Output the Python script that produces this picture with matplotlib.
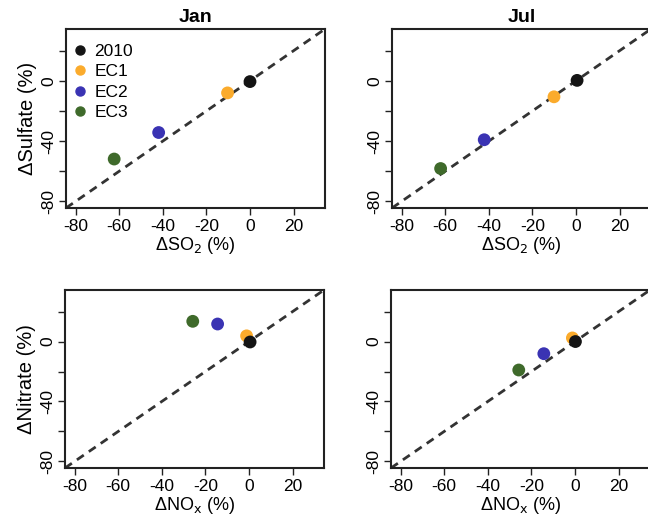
import matplotlib
matplotlib.use("Agg")
import matplotlib.pyplot as plt
from matplotlib.lines import Line2D

plt.rcParams['font.family'] = ['Liberation Sans', 'DejaVu Sans']

series = ["2010", "EC1", "EC2", "EC3"]
colors = ["#141414", "#fbab2c", "#3a33b3", "#3f6a2b"]

jan_so2 = [0.0, -10.3, -41.9, -62.3]
jan_sulfate = [-0.5, -8.0, -34.3, -51.9]
jul_so2 = [0.5, -10.1, -42.1, -62.1]
jul_sulfate = [0.3, -10.6, -39.1, -58.2]
jan_nox = [0.5, -1.1, -14.4, -25.8]
jan_nitrate = [-0.3, 3.8, 11.7, 13.5]
jul_nox = [0.2, -1.2, -14.3, -25.8]
jul_nitrate = [0.0, 2.4, -8.1, -19.0]

xticks = [-80, -60, -40, -20, 0, 20]
yticks = [-80, -60, -40, -20, 0, 20]
ytick_labels = ["-80", "", "-40", "", "0", ""]
lims = (-84.4, 34.4)

fig = plt.figure(figsize=(6.48, 5.25), dpi=100)
W, H = 648, 525
def add_ax(x0, y0, x1, y1):
    return fig.add_axes([x0 / W, 1 - y1 / H, (x1 - x0) / W, (y1 - y0) / H])

panels = [
    (add_ax(66, 29, 325, 208), jan_so2, jan_sulfate, "Jan", "ΔSO$_2$ (%)", "ΔSulfate (%)"),
    (add_ax(392, 29, 651, 208), jul_so2, jul_sulfate, "Jul", "ΔSO$_2$ (%)", None),
    (add_ax(65, 290, 324, 468), jan_nox, jan_nitrate, None, "ΔNO$_\\mathrm{x}$ (%)", "ΔNitrate (%)"),
    (add_ax(391, 290, 650, 468), jul_nox, jul_nitrate, None, "ΔNO$_\\mathrm{x}$ (%)", None),
]

for ax, xs, ys, title, xl, yl in panels:
    ax.set_xlim(lims)
    ax.set_ylim(lims)
    ax.plot(lims, lims, ls=(0, (3.0, 2.2)), color="#333333", lw=2.0, zorder=1)
    order = [1, 2, 3, 0]
    for i in order:
        ax.scatter(xs[i], ys[i], s=85, color=colors[i], edgecolors="none", zorder=3)
    ax.set_xticks(xticks)
    ax.set_xticklabels([str(t) for t in xticks], fontsize=12.5)
    ax.set_yticks(yticks)
    ax.set_yticklabels(ytick_labels, fontsize=12.5, rotation=90, va="center")
    ax.tick_params(direction="out", length=5, width=1.0, pad=3, color="#222222")
    ax.tick_params(axis="y", pad=2)
    for sp in ax.spines.values():
        sp.set_linewidth(1.5)
        sp.set_color("#222222")
    ax.set_xlabel(xl, fontsize=13, labelpad=1)
    ax.set_ylabel(yl if yl else "", fontsize=14.5, labelpad=3)
    if title:
        ax.set_title(title, fontsize=14, fontweight="bold", pad=5)

handles = [Line2D([0], [0], marker="o", ls="none", color=c, markersize=6.5) for c in colors]
panels[0][0].legend(handles, series, loc="upper left", frameon=False, fontsize=12.5,
                    handletextpad=0.3, labelspacing=0.3, borderaxespad=0.2,
                    handlelength=1.0, bbox_to_anchor=(-0.018, 0.975))

fig.savefig("out.png", dpi=100)
